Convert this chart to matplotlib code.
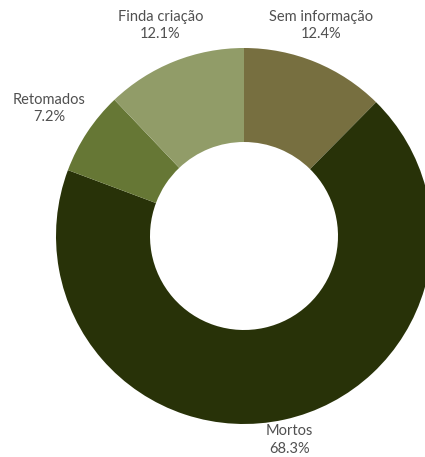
import numpy as np
import matplotlib.pyplot as plt

# Slices, clockwise from the top
labels = ["Sem informação", "Mortos", "Retomados", "Finda criação"]
shares = [12.4, 68.3, 7.2, 12.1]
colors = ["#776f40", "#283208", "#667735", "#919c68"]

# Label anchors (data units, radius = 1)
label_pos = [(0.412, 1.118), (0.241, -1.085), (-1.037, 0.679), (-0.444, 1.118)]

fig = plt.figure(figsize=(4.25, 4.57), dpi=100)
W, H = 425, 457
cx, cy, r = 244, 236, 188
ax = fig.add_axes([(cx - r) / W, 1 - (cy + r) / H, 2 * r / W, 2 * r / H])

ax.pie(shares, colors=colors, startangle=90, counterclock=False,
       radius=1, wedgeprops=dict(width=0.5, linewidth=0))
ax.set_xlim(-1, 1)
ax.set_ylim(-1, 1)

for name, val, (x, y) in zip(labels, shares, label_pos):
    ax.text(x, y, f"{name}\n{val}%", ha="center", va="center",
            fontsize=10.5, family="Lato", color="#505050",
            linespacing=1.3, clip_on=False)

ax.axis("off")
fig.savefig("out.png", dpi=100)
